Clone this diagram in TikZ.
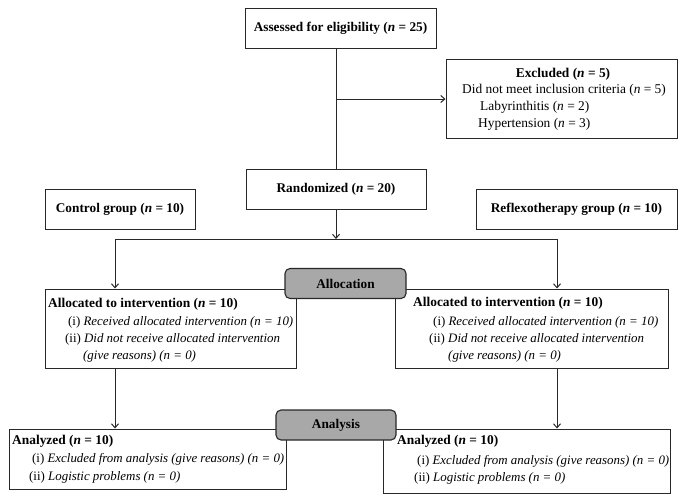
\documentclass[tikz,border=0pt]{standalone}
\usepackage{fontspec}
\setmainfont{Liberation Serif}
\usetikzlibrary{arrows.meta}
\definecolor{linec}{RGB}{40,40,40}
\definecolor{stagefill}{RGB}{168,168,168}
\begin{document}
\begin{tikzpicture}[x=1pt,y=-1pt,
  box/.style={draw=linec, line width=1pt, inner sep=0pt, fill=white},
  stage/.style={draw=linec, line width=1.1pt, fill=stagefill, rounded corners=5pt, inner sep=0pt,
    minimum width=121pt, minimum height=30pt, font=\fontsize{13.3}{15}\selectfont\bfseries},
  bt/.style={font=\fontsize{13.3}{15}\selectfont\bfseries},
  rt/.style={inner sep=0pt, anchor=west, font=\fontsize{13.4}{15}\selectfont},
  it/.style={inner sep=0pt, anchor=west, font=\fontsize{12.9}{15}\selectfont},
  bl/.style={inner sep=0pt, anchor=west, font=\fontsize{13.4}{15}\selectfont\bfseries},
  conn/.style={draw=linec, line width=1pt},
  arr/.style={conn, -{Straight Barb[length=4pt,width=7pt]}}
]
\useasboundingbox (0,0) rectangle (685,501);
\fill[white] (0,0) rectangle (685,501);

% top boxes
\node[box, bt, minimum width=191pt, minimum height=40pt] (assess) at (340.5,28) {Assessed for eligibility (\textit{n} = 25)};
\node[box, minimum width=231pt, minimum height=79pt] (excl) at (561.5,98.5) {};
\node[bl, anchor=center] (exclT) at (563,74) {Excluded (\textit{n} = 5)};
\node[rt] (exclA) at (462,90) {Did not meet inclusion criteria (\textit{n} = 5)};
\node[rt] (exclB) at (480,107) {Labyrinthitis (\textit{n} = 2)};
\node[rt] (exclC) at (478,124) {Hypertension (\textit{n} = 3)};

\node[box, bt, minimum width=180pt, minimum height=40pt] (rand) at (336,189) {Randomized (\textit{n} = 20)};
\node[box, bt, minimum width=150pt, minimum height=40pt] (ctrl) at (120,209) {Control group (\textit{n} = 10)};
\node[box, bt, minimum width=201pt, minimum height=40pt] (refl) at (576.5,209) {Reflexotherapy group (\textit{n} = 10)};

% allocation boxes
\node[box, minimum width=251pt, minimum height=79pt] (allocL) at (170.5,328.5) {};
\node[box, minimum width=273pt, minimum height=79pt] (allocR) at (531.5,328.5) {};
\node[stage] (allocation) at (345.5,283.5) {Allocation};

\node[bl] (aL1) at (48,304) {Allocated to intervention (\textit{n} = 10)};
\node[it] (aL2) at (68,322) {(i) \textit{Received allocated intervention (n = 10)}};
\node[it] (aL3) at (65,339) {(ii) \textit{Did not receive allocated intervention}};
\node[it] (aL4) at (83,356) {\textit{(give reasons) (n = 0)}};

\node[bl] (aR1) at (413,303) {Allocated to intervention (\textit{n} = 10)};
\node[it] (aR2) at (433,322) {(i) \textit{Received allocated intervention (n = 10)}};
\node[it] (aR3) at (429,339) {(ii) \textit{Did not receive allocated intervention}};
\node[it] (aR4) at (448,356) {\textit{(give reasons) (n = 0)}};

% analysis boxes
\node[box, minimum width=277pt, minimum height=60pt] (anL) at (147.5,459) {};
\node[box, minimum width=287pt, minimum height=64pt] (anR) at (526.5,461) {};
\node[stage, minimum width=120pt] (analysis) at (336,425) {Analysis};

\node[bl] (nL1) at (12,441) {Analyzed (\textit{n} = 10)};
\node[it] (nL2) at (32,459) {(i) \textit{Excluded from analysis (give reasons) (n = 0)}};
\node[it] (nL3) at (29,477) {(ii) \textit{Logistic problems (n = 0)}};

\node[bl] (nR1) at (397,441) {Analyzed (\textit{n} = 10)};
\node[it] (nR2) at (417,461) {(i) \textit{Excluded from analysis (give reasons) (n = 0)}};
\node[it] (nR3) at (414,478) {(ii) \textit{Logistic problems (n = 0)}};

% connectors
\coordinate (br) at (336,99);
\coordinate (hl) at (336,239);
\coordinate (hlL) at (115,239);
\coordinate (hlR) at (557,239);
\draw[conn] (rand.north |- assess.south) -- (rand.north);
\draw[arr] (br) -- (br -| excl.west);
\draw[arr] (rand.south) -- (hl);
\draw[conn] (hlL) -- (hlR);
\draw[arr] (hlL) -- (hlL |- allocL.north);
\draw[arr] (hlR) -- (hlR |- allocR.north);
\draw[arr] (hlL |- allocL.south) -- (hlL |- anL.north);
\draw[arr] (hlR |- allocR.south) -- (hlR |- anR.north);
\end{tikzpicture}
\end{document}
